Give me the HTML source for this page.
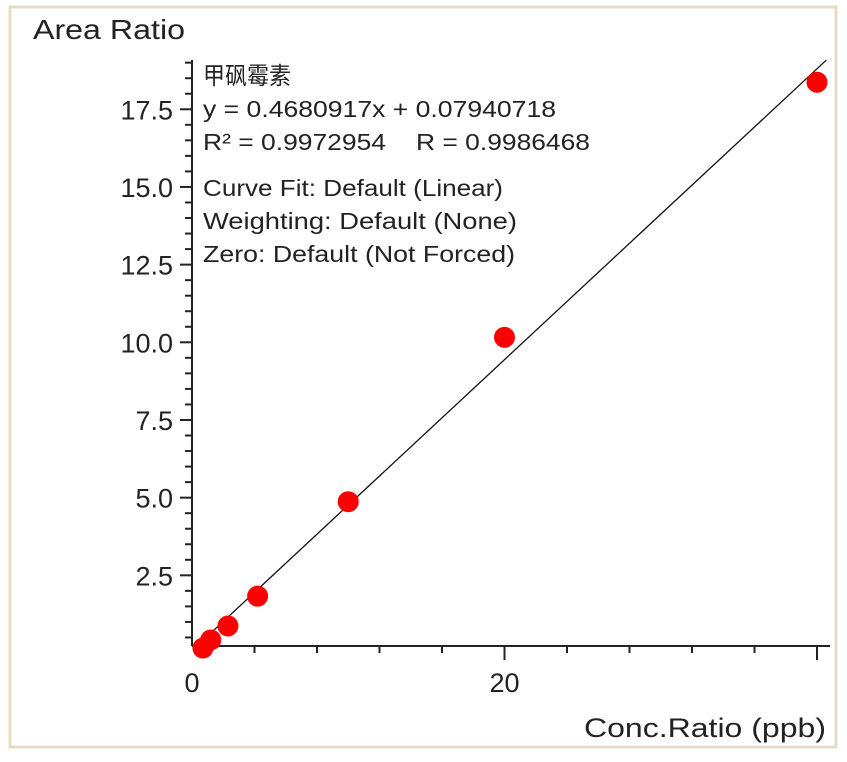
<!DOCTYPE html>
<html><head><meta charset="utf-8"><style>
html,body{margin:0;padding:0;background:#fff;}
svg{display:block;font-family:"Liberation Sans","Noto Sans CJK SC",sans-serif;}
</style></head><body>
<svg id="chart" width="847" height="762">
<rect x="10" y="7" width="826" height="740" fill="#fff" stroke="#e8dcc4" stroke-width="3"/>
<text x="33" y="39" font-size="28" fill="#222" textLength="152" lengthAdjust="spacingAndGlyphs">Area Ratio</text>
<text x="826" y="737" font-size="27" fill="#222" text-anchor="end" textLength="242" lengthAdjust="spacingAndGlyphs">Conc.Ratio (ppb)</text>
<g id="annot" font-size="23" fill="#222">
<text x="203" y="84" font-size="24" textLength="88" lengthAdjust="spacingAndGlyphs">甲砜霉素</text>
<text x="203" y="117" textLength="353" lengthAdjust="spacingAndGlyphs">y = 0.4680917x + 0.07940718</text>
<text x="203" y="150" textLength="183" lengthAdjust="spacingAndGlyphs">R² = 0.9972954</text>
<text x="416" y="150" textLength="174" lengthAdjust="spacingAndGlyphs">R = 0.9986468</text>
<text x="203" y="196" textLength="300" lengthAdjust="spacingAndGlyphs">Curve Fit: Default (Linear)</text>
<text x="203" y="229" textLength="314" lengthAdjust="spacingAndGlyphs">Weighting: Default (None)</text>
<text x="203" y="262" textLength="312" lengthAdjust="spacingAndGlyphs">Zero: Default (Not Forced)</text>
</g>
<g id="axes"></g>
<g id="marks"></g>
</svg>
<script>
const xValues=[0.7,1.2,2.3,4.2,10,20,40];
const yValues=[0.16,0.42,0.87,1.83,4.87,10.16,18.37];
const slope=0.4680917, intercept=0.07940718;
const yTicks=[2.5,5.0,7.5,10.0,12.5,15.0,17.5];
const xTicks=[0,20,40];
const xLabels=["0","20",""];
const NS="http://www.w3.org/2000/svg";
const X0=192, XS=15.625, Y0=653, YS=31.07;
const xs=v=>X0+v*XS, ys=v=>Y0-v*YS;
function mk(t,a,p){const e=document.createElementNS(NS,t);for(const k in a)e.setAttribute(k,a[k]);p.appendChild(e);return e;}
const ax=document.getElementById('axes'), mg=document.getElementById('marks');
let e=mk('line',{x1:192,y1:60,x2:192,y2:646,stroke:'#222','stroke-width':2},ax);


e=mk('line',{x1:192,y1:646,x2:830,y2:646,stroke:'#222','stroke-width':2},ax);


for(let v=0.5;v<=19;v+=0.5){const y=ys(v);if(y>644||y<60)continue;const major=Math.abs(v/2.5-Math.round(v/2.5))<1e-6;
e=mk('line',{x1:major?180:185,y1:y,x2:192,y2:y,stroke:'#222','stroke-width':2},ax);

}
yTicks.forEach(v=>{e=mk('text',{x:173,y:ys(v)+10,'font-size':27,'text-anchor':'end',fill:'#222'},ax);e.textContent=v.toFixed(1);

});
for(let v=4;v<=40;v+=4){const major=v%20===0;
e=mk('line',{x1:xs(v),y1:646,x2:xs(v),y2:major?660:653,stroke:'#222','stroke-width':2},ax);

}
xTicks.forEach((v,i)=>{e=mk('text',{x:xs(v),y:692,'font-size':27,'text-anchor':'middle',fill:'#222'},ax);e.textContent=xLabels[i];

});
const xa=0.3, xb=40.6;
e=mk('line',{x1:xs(xa),y1:ys(slope*xa+intercept),x2:xs(xb),y2:ys(slope*xb+intercept),stroke:'#111','stroke-width':1.3},mg);


xValues.forEach((v,i)=>{e=mk('circle',{cx:xs(v),cy:ys(yValues[i]),r:10.5,fill:'#f00'},mg);

});
</script>
</body></html>
